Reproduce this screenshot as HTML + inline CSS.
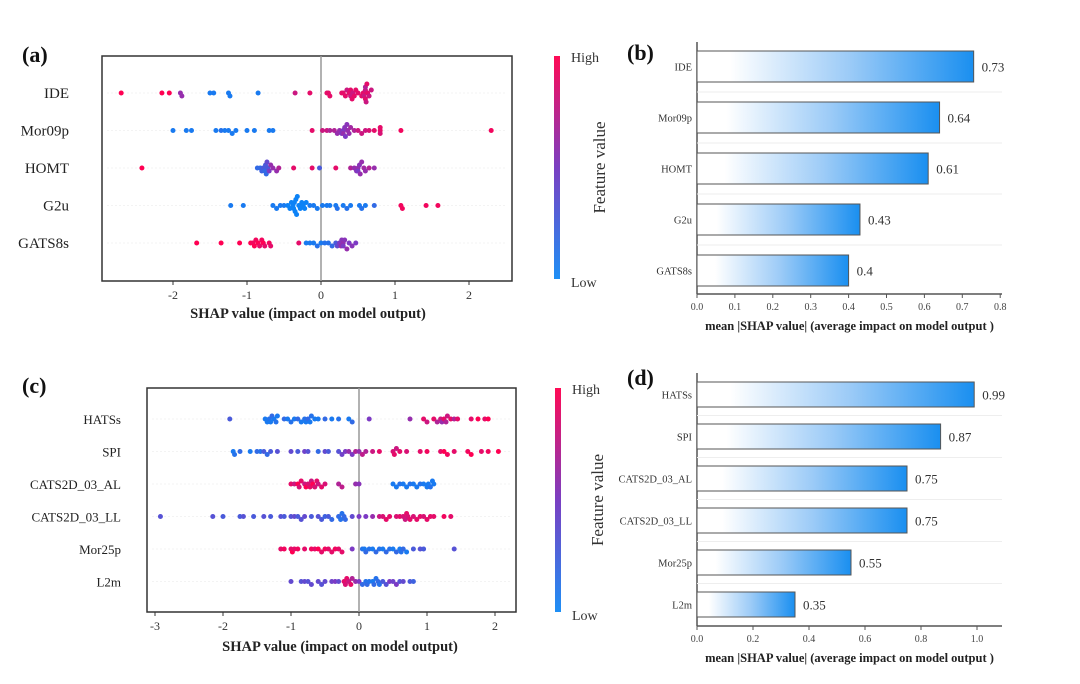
<!DOCTYPE html>
<html><head><meta charset="utf-8">
<style>
html,body{margin:0;padding:0;background:#fff;}
svg{display:block;font-family:"Liberation Serif",serif;}
</style></head>
<body>
<svg id="fig" width="1080" height="684" viewBox="0 0 1080 684">
<defs>
<linearGradient id="cbar" x1="0" y1="1" x2="0" y2="0">
<stop offset="0" stop-color="#1e8ff5"/><stop offset="0.5" stop-color="#7a3fc2"/><stop offset="1" stop-color="#ff0a55"/>
</linearGradient>
<linearGradient id="barg" x1="0" y1="0" x2="1" y2="0">
<stop offset="0.12" stop-color="#ffffff"/><stop offset="0.55" stop-color="#9ccbf7"/><stop offset="1" stop-color="#1a8ff0"/>
</linearGradient>
</defs>
</svg>
<script>
// ---------- Panel (a) data ----------
const aFeatures = ["IDE","Mor09p","HOMT","G2u","GATS8s"];
const aIdeVals = [-2.7,-2.15,-2.05,-1.9,-1.88,-1.5,-1.45,-1.25,-1.23,-0.85,-0.35,-0.15,0.08,0.1,0.12,0.28,0.3,0.33,0.35,0.38,0.4,0.4,0.42,0.43,0.45,0.47,0.5,0.55,0.57,0.58,0.6,0.6,0.6,0.61,0.62,0.63,0.65,0.68];
const aIdeCols = [1,1,1,0.6,0.6,0.1,0.1,0.1,0.1,0.1,0.8,0.9,0.9,0.9,0.9,0.9,0.9,0.9,0.8,0.9,0.8,0.9,0.9,0.8,0.9,0.9,0.9,0.9,0.9,0.8,0.8,0.9,0.7,0.8,0.9,0.9,0.8,0.8];
const aMorVals = [-2.0,-1.82,-1.75,-1.42,-1.35,-1.3,-1.25,-1.2,-1.15,-1.0,-0.9,-0.7,-0.65,-0.12,0.02,0.08,0.12,0.18,0.22,0.25,0.28,0.3,0.3,0.32,0.33,0.35,0.36,0.38,0.4,0.45,0.5,0.55,0.6,0.65,0.72,0.8,0.8,0.8,1.08,2.3];
const aMorCols = [0.1,0.1,0.1,0.1,0.15,0.1,0.1,0.1,0.1,0.1,0.1,0.1,0.1,0.9,0.8,0.8,0.7,0.7,0.6,0.6,0.5,0.5,0.6,0.55,0.5,0.55,0.6,0.6,0.65,0.7,0.8,0.8,0.8,0.85,0.9,0.9,0.85,0.9,0.95,0.95];
const aHomVals = [-2.42,-0.86,-0.82,-0.8,-0.78,-0.76,-0.75,-0.74,-0.73,-0.72,-0.7,-0.68,-0.65,-0.6,-0.57,-0.37,-0.12,-0.02,0.2,0.4,0.45,0.48,0.5,0.5,0.52,0.53,0.55,0.58,0.6,0.65,0.72];
const aHomCols = [1,0.2,0.2,0.25,0.3,0.2,0.3,0.2,0.4,0.3,0.5,0.6,0.6,0.6,0.7,0.9,0.9,0.3,0.9,0.7,0.6,0.55,0.6,0.5,0.55,0.6,0.6,0.65,0.6,0.7,0.6];
const aG2uVals = [-1.22,-1.05,-0.65,-0.6,-0.55,-0.5,-0.45,-0.42,-0.4,-0.38,-0.37,-0.36,-0.35,-0.34,-0.33,-0.32,-0.3,-0.28,-0.26,-0.24,-0.22,-0.2,-0.15,-0.1,-0.05,0.02,0.08,0.12,0.2,0.22,0.3,0.35,0.4,0.52,0.55,0.6,0.72,1.08,1.1,1.42,1.58];
const aG2uCols = [0.1,0.1,0.1,0.1,0.1,0.1,0.05,0.05,0.05,0.05,0.05,0.05,0.05,0.05,0.05,0.05,0.05,0.05,0.05,0.05,0.05,0.05,0.1,0.1,0.1,0.1,0.1,0.1,0.1,0.15,0.1,0.15,0.1,0.1,0.15,0.1,0.2,0.95,0.95,0.95,0.95];
const aGatVals = [-1.68,-1.35,-1.1,-0.95,-0.92,-0.9,-0.88,-0.85,-0.83,-0.8,-0.78,-0.76,-0.7,-0.68,-0.3,-0.2,-0.15,-0.1,-0.05,0.0,0.05,0.1,0.15,0.2,0.22,0.25,0.27,0.28,0.3,0.3,0.32,0.35,0.38,0.42,0.47];
const aGatCols = [1,1,1,1,0.95,1,0.95,1,0.9,0.95,1,0.9,0.95,0.9,0.9,0.1,0.1,0.1,0.15,0.1,0.15,0.15,0.2,0.3,0.4,0.5,0.6,0.55,0.6,0.5,0.55,0.6,0.5,0.55,0.5];
const aTicks = [-2,-1,0,1,2];

// ---------- Panel (b) data ----------
const bFeatures = ["IDE","Mor09p","HOMT","G2u","GATS8s"];
const bValues = [0.73,0.64,0.61,0.43,0.4];
const bTicks = [0,0.1,0.2,0.3,0.4,0.5,0.6,0.7,0.8];

// ---------- Panel (c) data ----------
const cFeatures = ["HATSs","SPI","CATS2D_03_AL","CATS2D_03_LL","Mor25p","L2m"];
const cHatVals = [-1.9,-1.38,-1.35,-1.32,-1.3,-1.28,-1.25,-1.22,-1.2,-1.1,-1.05,-1.0,-0.95,-0.9,-0.85,-0.8,-0.78,-0.75,-0.72,-0.7,-0.65,-0.6,-0.5,-0.4,-0.3,-0.15,-0.1,0.15,0.75,0.95,1.0,1.1,1.15,1.2,1.22,1.25,1.28,1.3,1.35,1.4,1.45,1.65,1.75,1.85,1.9];
const cHatCols = [0.3,0.1,0.1,0.15,0.1,0.2,0.1,0.15,0.1,0.2,0.1,0.15,0.1,0.2,0.1,0.15,0.1,0.2,0.1,0.15,0.1,0.1,0.2,0.1,0.15,0.1,0.2,0.5,0.6,0.9,0.8,0.9,0.7,0.8,0.6,0.9,0.7,0.8,0.9,0.7,0.9,0.9,1,0.9,1];
const cSpiVals = [-1.85,-1.83,-1.75,-1.6,-1.5,-1.45,-1.4,-1.35,-1.3,-1.2,-1.0,-0.9,-0.8,-0.75,-0.6,-0.5,-0.45,-0.3,-0.25,-0.2,-0.15,-0.1,-0.05,0.0,0.05,0.1,0.2,0.3,0.5,0.52,0.55,0.6,0.7,0.9,1.0,1.2,1.25,1.3,1.4,1.6,1.65,1.8,1.9,2.05];
const cSpiCols = [0.1,0.15,0.2,0.1,0.2,0.15,0.3,0.2,0.3,0.35,0.4,0.3,0.45,0.35,0.2,0.4,0.3,0.35,0.45,0.5,0.6,0.5,0.7,0.6,0.75,0.7,0.8,0.9,0.85,0.9,0.8,0.9,0.85,0.9,0.95,0.9,1,0.95,0.9,0.95,1,0.9,0.95,1];
const cAlVals = [-1.0,-0.95,-0.9,-0.88,-0.85,-0.8,-0.78,-0.75,-0.72,-0.7,-0.68,-0.65,-0.62,-0.6,-0.55,-0.5,-0.3,-0.25,-0.05,0.0,0.5,0.55,0.6,0.65,0.7,0.75,0.8,0.85,0.9,0.95,1.0,1.02,1.05,1.08,1.1];
const cAlCols = [0.9,0.8,1,0.85,0.9,0.8,1,0.85,0.9,0.8,1,0.85,0.9,0.8,0.9,0.85,0.7,0.75,0.6,0.55,0.1,0.1,0.15,0.1,0.1,0.15,0.1,0.1,0.15,0.1,0.1,0.1,0.15,0.1,0.1];
const cLlVals = [-2.92,-2.15,-2.0,-1.75,-1.7,-1.55,-1.4,-1.3,-1.15,-1.1,-1.0,-0.95,-0.9,-0.85,-0.8,-0.7,-0.6,-0.55,-0.5,-0.45,-0.4,-0.3,-0.27,-0.25,-0.22,-0.2,-0.1,0.0,0.1,0.2,0.3,0.35,0.4,0.45,0.55,0.6,0.65,0.68,0.7,0.72,0.75,0.8,0.85,0.9,0.95,1.0,1.05,1.1,1.25,1.35];
const cLlCols = [0.35,0.35,0.3,0.3,0.35,0.3,0.35,0.3,0.35,0.3,0.35,0.4,0.3,0.35,0.4,0.3,0.35,0.3,0.25,0.3,0.2,0.2,0.15,0.15,0.2,0.2,0.4,0.5,0.5,0.6,0.8,0.85,0.9,0.9,0.85,0.9,0.85,0.8,0.9,0.85,0.9,0.85,0.9,0.9,0.85,0.9,0.9,0.9,0.95,0.9];
const cMorVals = [-1.15,-1.1,-1.0,-0.98,-0.95,-0.9,-0.8,-0.7,-0.65,-0.6,-0.55,-0.5,-0.45,-0.4,-0.35,-0.3,-0.25,-0.1,0.05,0.08,0.1,0.15,0.2,0.25,0.3,0.35,0.4,0.45,0.5,0.55,0.6,0.62,0.65,0.7,0.8,0.9,0.95,1.4];
const cMorCols = [0.9,0.95,0.9,1,0.9,0.95,0.9,0.95,0.9,1,0.9,0.95,0.9,0.9,0.95,0.9,0.9,0.5,0.15,0.1,0.2,0.15,0.1,0.2,0.15,0.1,0.2,0.15,0.1,0.2,0.1,0.15,0.2,0.1,0.3,0.35,0.3,0.35];
const cL2mVals = [-1.0,-0.85,-0.8,-0.75,-0.7,-0.6,-0.55,-0.5,-0.4,-0.35,-0.3,-0.22,-0.2,-0.18,-0.15,-0.12,-0.1,-0.05,0.0,0.05,0.1,0.12,0.15,0.2,0.22,0.25,0.28,0.3,0.35,0.4,0.45,0.5,0.55,0.6,0.65,0.75,0.8];
const cL2mCols = [0.4,0.35,0.4,0.35,0.4,0.4,0.35,0.4,0.45,0.5,0.4,0.9,0.85,0.9,0.8,0.9,0.7,0.6,0.5,0.2,0.15,0.2,0.15,0.1,0.2,0.15,0.2,0.15,0.3,0.35,0.5,0.45,0.5,0.35,0.4,0.3,0.25];
const cTicks = [-3,-2,-1,0,1,2];

// ---------- Panel (d) data ----------
const dFeatures = ["HATSs","SPI","CATS2D_03_AL","CATS2D_03_LL","Mor25p","L2m"];
const dValues = [0.99,0.87,0.75,0.75,0.55,0.35];
const dTicks = [0,0.2,0.4,0.6,0.8,1.0];

const svg = document.getElementById('fig');
const NS = 'http://www.w3.org/2000/svg';
function mk(tag, attrs, text){
  const e = document.createElementNS(NS, tag);
  for (const k in attrs) e.setAttribute(k, attrs[k]);
  if (text !== undefined) e.textContent = text;
  svg.appendChild(e);
  return e;
}
function shapColor(t){
  const a=[0,138,251], m=[124,58,196], b=[255,0,82];
  let c;
  if (t<0.5){const u=t/0.5; c=a.map((v,i)=>v+(m[i]-v)*u);} else {const u=(t-0.5)/0.5; c=m.map((v,i)=>v+(b[i]-v)*u);}
  return 'rgb('+c.map(Math.round).join(',')+')';
}

function beeswarm(cfg){
  const {box, x0, pxPer, rows, rowY, ticks, tickY, titleY, titleX, labelX, labelSize, panel} = cfg;
  const xs = v => x0 + v*pxPer;
  let r = mk('rect',{x:box[0],y:box[1],width:box[2]-box[0],height:box[3]-box[1],fill:'none',stroke:'#333','stroke-width':1.5});
  
  
  let z = mk('line',{x1:xs(0),x2:xs(0),y1:box[1],y2:box[3],stroke:'#999','stroke-width':1.5});
  
  
  rows.forEach((row,i)=>{
    const y = rowY(i);
    mk('line',{x1:box[0]+5,x2:box[2]-5,y1:y,y2:y,stroke:'#f3f3f3','stroke-width':1,'stroke-dasharray':'2,2'});
    let l = mk('text',{x:labelX,y:y+5,'text-anchor':'end','font-size':labelSize,fill:'#222'}, row.name);
    
    
    const idx = row.vals.map((v,k)=>k).sort((p,q)=>row.vals[p]-row.vals[q]);
    const bins = {};
    idx.forEach(k=>{
      const v = row.vals[k];
      const b = Math.round(xs(v)/5);
      const n = bins[b]||0; bins[b]=n+1;
      const off = (n===0)?0:(n%2?1:-1)*Math.ceil(n/2)*3;
      const c = mk('circle',{cx:xs(v),cy:y+off,r:2.5,fill:shapColor(row.cols[k])});
      
      
    });
  });
  ticks.forEach(t=>{
    mk('line',{x1:xs(t),x2:xs(t),y1:box[3],y2:box[3]+4,stroke:'#333'});
    let tl = mk('text',{x:xs(t),y:tickY,'text-anchor':'middle','font-size':12,fill:'#333'}, String(t));
    
    
  });
  let ti = mk('text',{x:titleX,y:titleY,'text-anchor':'middle','font-size':14.5,'font-weight':'bold',fill:'#222'}, 'SHAP value (impact on model output)');
  
  
}

function colorbar(x, y1, y2, fvX, panel){
  let cb = mk('rect',{x:x,y:y1,width:6,height:y2-y1,fill:'url(#cbar)'});
  
  
  let h = mk('text',{x:x+17,y:y1+6,'font-size':14,fill:'#333'}, 'High');
  
  
  let lo = mk('text',{x:x+17,y:y2+8,'font-size':14,fill:'#333'}, 'Low');
  
  
  const cy=(y1+y2)/2;
  let fv = mk('text',{x:fvX,y:cy,'text-anchor':'middle','font-size':17,fill:'#333',transform:'rotate(-90 '+fvX+' '+cy+')'}, 'Feature value');
  
  
}

function barchart(cfg){
  const {x0, pxPer, axisTop, axisY, feats, vals, ticks, tickFmt, y0, step, barH, panel, rightEnd, titleY} = cfg;
  const xs = v => x0 + v*pxPer;
  mk('line',{x1:x0,x2:x0,y1:axisTop,y2:axisY,stroke:'#555','stroke-width':1.5});
  mk('line',{x1:x0,x2:rightEnd,y1:axisY,y2:axisY,stroke:'#555','stroke-width':1.5});
  feats.forEach((f,i)=>{
    const cy = y0 + i*step;
    if (i>0) mk('line',{x1:x0,x2:rightEnd,y1:cy-step/2,y2:cy-step/2,stroke:'#eee','stroke-width':1});
    const b = mk('rect',{x:x0,y:cy-barH/2,width:xs(vals[i])-x0,height:barH,fill:'url(#barg)',stroke:'#555','stroke-width':1});
    
    
    const l = mk('text',{x:x0-5,y:cy+4,'text-anchor':'end','font-size':10.5,fill:'#333'}, f);
    
    
    const v = mk('text',{x:xs(vals[i])+8,y:cy+5,'font-size':13,fill:'#333'}, String(vals[i]));
    
    
  });
  ticks.forEach(t=>{
    mk('line',{x1:xs(t),x2:xs(t),y1:axisY,y2:axisY+4,stroke:'#555'});
    const tl = mk('text',{x:xs(t),y:axisY+16,'text-anchor':'middle','font-size':10,fill:'#444'}, tickFmt(t));
    
    
  });
  const ti = mk('text',{x:(x0+rightEnd)/2,y:titleY,'text-anchor':'middle','font-size':12.5,'font-weight':'bold',fill:'#222'}, 'mean |SHAP value| (average impact on model output )');
  
  
}

function plabel(x,y,t,name){
  const e = mk('text',{x:x,y:y,'font-size':22,'font-weight':'bold',fill:'#111'}, t);
  
  
}

beeswarm({box:[102,56,512,281], x0:321, pxPer:74,
  rows:[{name:aFeatures[0],vals:aIdeVals,cols:aIdeCols},{name:aFeatures[1],vals:aMorVals,cols:aMorCols},{name:aFeatures[2],vals:aHomVals,cols:aHomCols},{name:aFeatures[3],vals:aG2uVals,cols:aG2uCols},{name:aFeatures[4],vals:aGatVals,cols:aGatCols}],
  rowY:i=>93+i*37.5, ticks:aTicks, tickY:299, titleY:318, titleX:308, labelX:69, labelSize:15, panel:'a'});
colorbar(554,56,279,605,'a');
plabel(22,62,'(a)','panel-a-label');

barchart({x0:697, pxPer:379, axisTop:42, axisY:294, feats:bFeatures, vals:bValues, ticks:bTicks, tickFmt:t=>t.toFixed(1), y0:66.5, step:51, barH:31, panel:'b', rightEnd:1002, titleY:330});
plabel(627,60,'(b)','panel-b-label');

beeswarm({box:[147,388,516,612], x0:359, pxPer:68,
  rows:[{name:cFeatures[0],vals:cHatVals,cols:cHatCols},{name:cFeatures[1],vals:cSpiVals,cols:cSpiCols},{name:cFeatures[2],vals:cAlVals,cols:cAlCols},{name:cFeatures[3],vals:cLlVals,cols:cLlCols},{name:cFeatures[4],vals:cMorVals,cols:cMorCols},{name:cFeatures[5],vals:cL2mVals,cols:cL2mCols}],
  rowY:i=>419+i*32.5, ticks:cTicks, tickY:630, titleY:651, titleX:340, labelX:121, labelSize:13, panel:'c'});
colorbar(555,388,612,603,'c');
plabel(22,393,'(c)','panel-c-label');

barchart({x0:697, pxPer:280, axisTop:373, axisY:626, feats:dFeatures, vals:dValues, ticks:dTicks, tickFmt:t=>t.toFixed(1), y0:394.5, step:42, barH:25, panel:'d', rightEnd:1002, titleY:662});
plabel(627,385,'(d)','panel-d-label');
</script>
</body></html>
